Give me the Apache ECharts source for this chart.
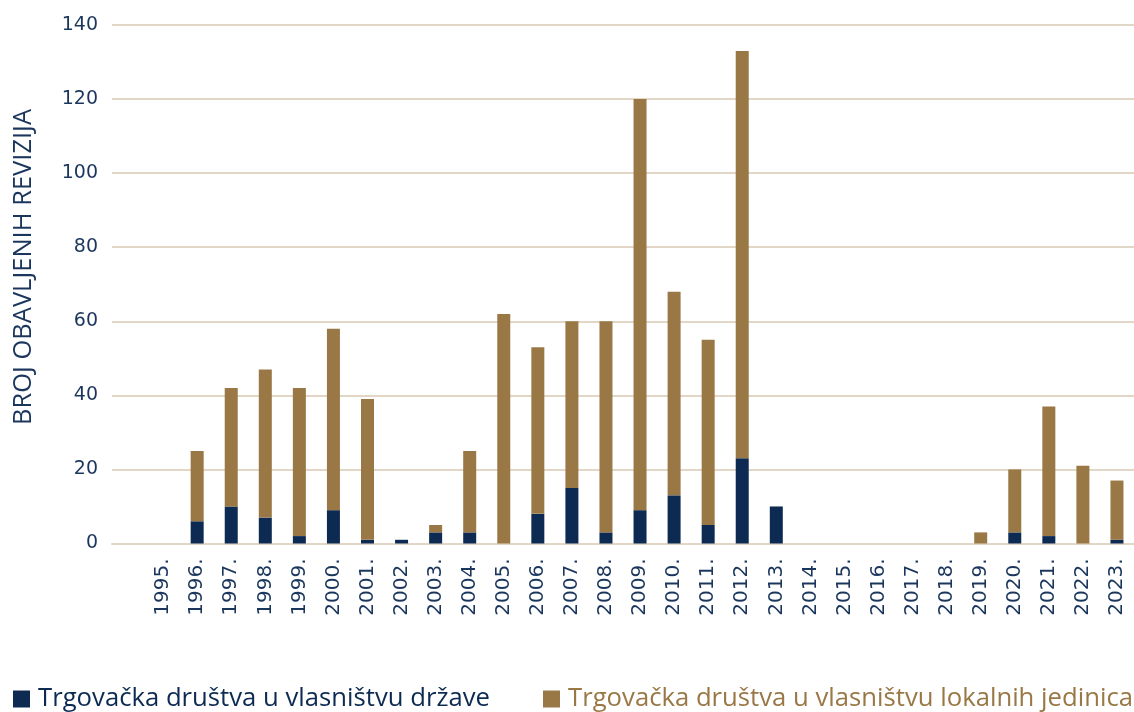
<!DOCTYPE html>
<html>
<head>
<meta charset="utf-8">
<style>
  html, body { margin: 0; padding: 0; background: #ffffff; }
  #chart { width: 1134px; height: 712px; }
</style>
<script src="https://cdn.jsdelivr.net/npm/echarts@6/dist/echarts.min.js"></script>
</head>
<body>
<div id="chart"></div>
<script>
// Broj obavljenih revizija po godinama, prema vlasništvu trgovačkih društava
const years = ['1995.', '1996.', '1997.', '1998.', '1999.', '2000.', '2001.', '2002.', '2003.', '2004.',
  '2005.', '2006.', '2007.', '2008.', '2009.', '2010.', '2011.', '2012.', '2013.', '2014.',
  '2015.', '2016.', '2017.', '2018.', '2019.', '2020.', '2021.', '2022.', '2023.'];

// Trgovačka društva u vlasništvu države
const drzava = [0, 6, 10, 7, 2, 9, 1, 1, 3, 3,
  0, 8, 15, 3, 9, 13, 5, 23, 10, 0,
  0, 0, 0, 0, 0, 3, 2, 0, 1];

// Trgovačka društva u vlasništvu lokalnih jedinica
const lokalne = [0, 19, 32, 40, 40, 49, 38, 0, 2, 22,
  62, 45, 45, 57, 111, 55, 50, 110, 0, 0,
  0, 0, 0, 0, 3, 17, 35, 21, 16];

const yTicks = { min: 0, max: 140, interval: 20 };

const seriesNames = ['Trgovačka društva u vlasništvu države', 'Trgovačka društva u vlasništvu lokalnih jedinica'];
const axisTitle = 'BROJ OBAVLJENIH REVIZIJA';

const NAVY = '#0d2b52';
const BROWN = '#997846';
const GRID_LINE = '#e2d6c6';

// an empty leading slot keeps the grid lines running left of the first year
const axisCategories = [''].concat(years);
const pad = (arr) => [null].concat(arr.map(v => (v === 0 ? null : v)));

const chart = echarts.init(document.getElementById('chart'), null, { renderer: 'canvas' });

chart.setOption({
  backgroundColor: '#ffffff',
  animation: false,
  grid: { left: 112, top: 25, width: 1034, bottom: 168.5, containLabel: false },
  xAxis: {
    type: 'category',
    data: axisCategories,
    boundaryGap: true,
    axisLine: { show: true, lineStyle: { color: GRID_LINE, width: 2 } },
    axisTick: { show: false },
    axisLabel: {
      interval: 0,
      rotate: 90,
      margin: 15,
      color: '#1b365d',
      fontFamily: 'DejaVu Sans',
      fontSize: 20
    },
    splitLine: { show: false }
  },
  yAxis: {
    type: 'value',
    min: yTicks.min,
    max: yTicks.max,
    interval: yTicks.interval,
    axisLine: { show: false },
    axisTick: { show: false },
    axisLabel: {
      margin: 14,
      color: '#1b365d',
      fontFamily: 'DejaVu Sans',
      fontSize: 19
    },
    splitLine: { show: true, lineStyle: { color: GRID_LINE, width: 2 } }
  },
  legend: [
    {
      data: [seriesNames[0]],
      left: 13, top: 686, padding: 0,
      icon: 'rect', itemWidth: 17, itemHeight: 17,
      textStyle: { color: NAVY, fontFamily: 'Open Sans', fontSize: 25.7, padding: [0, 0, 0, 3] }
    },
    {
      data: [seriesNames[1]],
      left: 543, top: 686, padding: 0,
      icon: 'rect', itemWidth: 17, itemHeight: 17,
      textStyle: { color: BROWN, fontFamily: 'Open Sans', fontSize: 25.7, padding: [0, 0, 0, 3] }
    }
  ],
  graphic: [
    {
      type: 'text',
      x: 24, y: 267,
      rotation: Math.PI / 2,
      style: {
        text: axisTitle,
        fill: '#1b365d',
        font: '25.5px "Open Sans"',
        textAlign: 'center',
        textVerticalAlign: 'middle'
      }
    }
  ],
  series: [
    {
      name: seriesNames[0],
      type: 'bar',
      stack: 'ukupno',
      barWidth: 13,
      itemStyle: { color: NAVY },
      data: pad(drzava)
    },
    {
      name: seriesNames[1],
      type: 'bar',
      stack: 'ukupno',
      barWidth: 13,
      itemStyle: { color: BROWN },
      data: pad(lokalne)
    }
  ]
});
</script>
</body>
</html>
